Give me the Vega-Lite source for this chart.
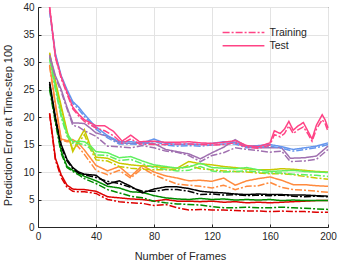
{
"$schema":"https://vega.github.io/schema/vega-lite/v6.json",
"width":290,"height":220,
"autosize":"none",
"padding":{"left":38,"top":7,"right":11,"bottom":36},
"config":{"font":"Liberation Sans","view":{"stroke":"#262626","strokeWidth":1},
 "axis":{"gridColor":"#e3e3e3","domainColor":"#262626","tickColor":"#262626","labelColor":"#262626","titleColor":"#262626","labelFontSize":10,"titleFontSize":11,"titleFontWeight":"normal","tickSize":-3,"labelFlush":false,"labelFont":"Liberation Sans","titleFont":"Liberation Sans"}},
"data":{"values":[
{"s":"red","t":"Test","x":8,"y":20.7},{"s":"red","t":"Test","x":12,"y":12.5},{"s":"red","t":"Test","x":16,"y":9.5},{"s":"red","t":"Test","x":20,"y":7.6},{"s":"red","t":"Test","x":24,"y":6.9},{"s":"red","t":"Test","x":28,"y":6.8},{"s":"red","t":"Test","x":32,"y":6.8},{"s":"red","t":"Test","x":40,"y":6.5},{"s":"red","t":"Test","x":48,"y":5.5},{"s":"red","t":"Test","x":56,"y":5.3},{"s":"red","t":"Test","x":64,"y":5.1},{"s":"red","t":"Test","x":72,"y":5.0},{"s":"red","t":"Test","x":80,"y":4.7},{"s":"red","t":"Test","x":88,"y":5.0},{"s":"red","t":"Test","x":96,"y":4.7},{"s":"red","t":"Test","x":104,"y":4.7},{"s":"red","t":"Test","x":112,"y":4.6},{"s":"red","t":"Test","x":120,"y":4.7},{"s":"red","t":"Test","x":128,"y":4.5},{"s":"red","t":"Test","x":136,"y":4.6},{"s":"red","t":"Test","x":144,"y":4.4},{"s":"red","t":"Test","x":152,"y":4.5},{"s":"red","t":"Test","x":160,"y":4.4},{"s":"red","t":"Test","x":168,"y":4.5},{"s":"red","t":"Test","x":176,"y":4.6},{"s":"red","t":"Test","x":184,"y":4.7},{"s":"red","t":"Test","x":192,"y":4.8},{"s":"red","t":"Test","x":200,"y":4.8},
{"s":"red","t":"Training","x":8,"y":20.5},{"s":"red","t":"Training","x":12,"y":12.2},{"s":"red","t":"Training","x":16,"y":9.0},{"s":"red","t":"Training","x":20,"y":7.2},{"s":"red","t":"Training","x":24,"y":6.5},{"s":"red","t":"Training","x":28,"y":6.4},{"s":"red","t":"Training","x":32,"y":6.4},{"s":"red","t":"Training","x":40,"y":6.1},{"s":"red","t":"Training","x":48,"y":5.0},{"s":"red","t":"Training","x":56,"y":4.6},{"s":"red","t":"Training","x":64,"y":4.4},{"s":"red","t":"Training","x":72,"y":4.3},{"s":"red","t":"Training","x":80,"y":3.9},{"s":"red","t":"Training","x":88,"y":4.1},{"s":"red","t":"Training","x":96,"y":3.5},{"s":"red","t":"Training","x":104,"y":3.1},{"s":"red","t":"Training","x":112,"y":3.2},{"s":"red","t":"Training","x":120,"y":3.1},{"s":"red","t":"Training","x":128,"y":3.1},{"s":"red","t":"Training","x":136,"y":3.0},{"s":"red","t":"Training","x":144,"y":2.9},{"s":"red","t":"Training","x":152,"y":2.9},{"s":"red","t":"Training","x":160,"y":2.8},{"s":"red","t":"Training","x":168,"y":2.9},{"s":"red","t":"Training","x":176,"y":2.8},{"s":"red","t":"Training","x":184,"y":2.8},{"s":"red","t":"Training","x":192,"y":2.7},{"s":"red","t":"Training","x":200,"y":2.7},
{"s":"darkgreen","t":"Test","x":8,"y":25.5},{"s":"darkgreen","t":"Test","x":12,"y":19.5},{"s":"darkgreen","t":"Test","x":16,"y":13.8},{"s":"darkgreen","t":"Test","x":20,"y":11.0},{"s":"darkgreen","t":"Test","x":24,"y":10.3},{"s":"darkgreen","t":"Test","x":28,"y":9.8},{"s":"darkgreen","t":"Test","x":32,"y":9.2},{"s":"darkgreen","t":"Test","x":40,"y":8.4},{"s":"darkgreen","t":"Test","x":48,"y":7.4},{"s":"darkgreen","t":"Test","x":56,"y":7.1},{"s":"darkgreen","t":"Test","x":64,"y":6.4},{"s":"darkgreen","t":"Test","x":72,"y":6.3},{"s":"darkgreen","t":"Test","x":80,"y":5.7},{"s":"darkgreen","t":"Test","x":88,"y":5.3},{"s":"darkgreen","t":"Test","x":96,"y":5.1},{"s":"darkgreen","t":"Test","x":104,"y":5.0},{"s":"darkgreen","t":"Test","x":112,"y":5.2},{"s":"darkgreen","t":"Test","x":120,"y":5.0},{"s":"darkgreen","t":"Test","x":128,"y":5.1},{"s":"darkgreen","t":"Test","x":136,"y":4.9},{"s":"darkgreen","t":"Test","x":144,"y":5.0},{"s":"darkgreen","t":"Test","x":152,"y":4.9},{"s":"darkgreen","t":"Test","x":160,"y":5.0},{"s":"darkgreen","t":"Test","x":168,"y":4.8},{"s":"darkgreen","t":"Test","x":176,"y":4.9},{"s":"darkgreen","t":"Test","x":184,"y":4.8},{"s":"darkgreen","t":"Test","x":192,"y":4.8},{"s":"darkgreen","t":"Test","x":200,"y":4.8},
{"s":"darkgreen","t":"Training","x":8,"y":25.0},{"s":"darkgreen","t":"Training","x":12,"y":19.0},{"s":"darkgreen","t":"Training","x":16,"y":13.4},{"s":"darkgreen","t":"Training","x":20,"y":10.8},{"s":"darkgreen","t":"Training","x":24,"y":10.1},{"s":"darkgreen","t":"Training","x":28,"y":9.5},{"s":"darkgreen","t":"Training","x":32,"y":8.8},{"s":"darkgreen","t":"Training","x":40,"y":7.9},{"s":"darkgreen","t":"Training","x":48,"y":6.8},{"s":"darkgreen","t":"Training","x":56,"y":6.2},{"s":"darkgreen","t":"Training","x":64,"y":5.6},{"s":"darkgreen","t":"Training","x":72,"y":5.3},{"s":"darkgreen","t":"Training","x":80,"y":4.7},{"s":"darkgreen","t":"Training","x":88,"y":4.4},{"s":"darkgreen","t":"Training","x":96,"y":4.2},{"s":"darkgreen","t":"Training","x":104,"y":4.1},{"s":"darkgreen","t":"Training","x":112,"y":4.0},{"s":"darkgreen","t":"Training","x":120,"y":3.7},{"s":"darkgreen","t":"Training","x":128,"y":3.5},{"s":"darkgreen","t":"Training","x":136,"y":3.5},{"s":"darkgreen","t":"Training","x":144,"y":3.6},{"s":"darkgreen","t":"Training","x":152,"y":3.5},{"s":"darkgreen","t":"Training","x":160,"y":3.5},{"s":"darkgreen","t":"Training","x":168,"y":3.6},{"s":"darkgreen","t":"Training","x":176,"y":3.5},{"s":"darkgreen","t":"Training","x":184,"y":3.4},{"s":"darkgreen","t":"Training","x":192,"y":3.3},{"s":"darkgreen","t":"Training","x":200,"y":3.2},
{"s":"black","t":"Test","x":8,"y":26.4},{"s":"black","t":"Test","x":12,"y":20.0},{"s":"black","t":"Test","x":16,"y":15.0},{"s":"black","t":"Test","x":20,"y":12.3},{"s":"black","t":"Test","x":24,"y":10.8},{"s":"black","t":"Test","x":28,"y":10.0},{"s":"black","t":"Test","x":32,"y":9.6},{"s":"black","t":"Test","x":40,"y":9.4},{"s":"black","t":"Test","x":48,"y":7.8},{"s":"black","t":"Test","x":56,"y":8.4},{"s":"black","t":"Test","x":64,"y":7.4},{"s":"black","t":"Test","x":72,"y":6.2},{"s":"black","t":"Test","x":80,"y":6.9},{"s":"black","t":"Test","x":88,"y":7.3},{"s":"black","t":"Test","x":96,"y":7.3},{"s":"black","t":"Test","x":104,"y":7.0},{"s":"black","t":"Test","x":112,"y":6.5},{"s":"black","t":"Test","x":120,"y":6.3},{"s":"black","t":"Test","x":128,"y":6.2},{"s":"black","t":"Test","x":136,"y":6.0},{"s":"black","t":"Test","x":144,"y":5.9},{"s":"black","t":"Test","x":152,"y":6.0},{"s":"black","t":"Test","x":160,"y":5.9},{"s":"black","t":"Test","x":168,"y":5.9},{"s":"black","t":"Test","x":176,"y":5.8},{"s":"black","t":"Test","x":184,"y":5.8},{"s":"black","t":"Test","x":192,"y":5.7},{"s":"black","t":"Test","x":200,"y":5.6},
{"s":"black","t":"Training","x":8,"y":26.0},{"s":"black","t":"Training","x":12,"y":19.5},{"s":"black","t":"Training","x":16,"y":14.6},{"s":"black","t":"Training","x":20,"y":12.0},{"s":"black","t":"Training","x":24,"y":10.6},{"s":"black","t":"Training","x":28,"y":9.8},{"s":"black","t":"Training","x":32,"y":9.5},{"s":"black","t":"Training","x":40,"y":9.0},{"s":"black","t":"Training","x":48,"y":8.3},{"s":"black","t":"Training","x":56,"y":7.9},{"s":"black","t":"Training","x":64,"y":7.2},{"s":"black","t":"Training","x":72,"y":6.5},{"s":"black","t":"Training","x":80,"y":6.5},{"s":"black","t":"Training","x":88,"y":6.8},{"s":"black","t":"Training","x":96,"y":6.8},{"s":"black","t":"Training","x":104,"y":6.5},{"s":"black","t":"Training","x":112,"y":5.9},{"s":"black","t":"Training","x":120,"y":6.0},{"s":"black","t":"Training","x":128,"y":5.8},{"s":"black","t":"Training","x":136,"y":5.9},{"s":"black","t":"Training","x":144,"y":5.7},{"s":"black","t":"Training","x":152,"y":5.8},{"s":"black","t":"Training","x":160,"y":5.7},{"s":"black","t":"Training","x":168,"y":5.8},{"s":"black","t":"Training","x":176,"y":5.6},{"s":"black","t":"Training","x":184,"y":5.5},{"s":"black","t":"Training","x":192,"y":5.6},{"s":"black","t":"Training","x":200,"y":5.5},
{"s":"orange","t":"Test","x":8,"y":29.5},{"s":"orange","t":"Test","x":12,"y":22.5},{"s":"orange","t":"Test","x":16,"y":16.0},{"s":"orange","t":"Test","x":20,"y":15.7},{"s":"orange","t":"Test","x":24,"y":15.9},{"s":"orange","t":"Test","x":28,"y":15.2},{"s":"orange","t":"Test","x":32,"y":14.0},{"s":"orange","t":"Test","x":40,"y":11.2},{"s":"orange","t":"Test","x":48,"y":10.2},{"s":"orange","t":"Test","x":56,"y":11.0},{"s":"orange","t":"Test","x":64,"y":9.2},{"s":"orange","t":"Test","x":72,"y":11.2},{"s":"orange","t":"Test","x":80,"y":10.0},{"s":"orange","t":"Test","x":88,"y":9.3},{"s":"orange","t":"Test","x":96,"y":8.9},{"s":"orange","t":"Test","x":104,"y":8.4},{"s":"orange","t":"Test","x":112,"y":8.5},{"s":"orange","t":"Test","x":120,"y":8.3},{"s":"orange","t":"Test","x":128,"y":8.9},{"s":"orange","t":"Test","x":136,"y":7.6},{"s":"orange","t":"Test","x":144,"y":8.4},{"s":"orange","t":"Test","x":152,"y":8.8},{"s":"orange","t":"Test","x":160,"y":9.1},{"s":"orange","t":"Test","x":168,"y":8.5},{"s":"orange","t":"Test","x":176,"y":7.7},{"s":"orange","t":"Test","x":184,"y":7.7},{"s":"orange","t":"Test","x":192,"y":7.5},{"s":"orange","t":"Test","x":200,"y":7.4},
{"s":"orange","t":"Training","x":8,"y":29.3},{"s":"orange","t":"Training","x":12,"y":22.0},{"s":"orange","t":"Training","x":16,"y":15.8},{"s":"orange","t":"Training","x":20,"y":15.5},{"s":"orange","t":"Training","x":24,"y":15.6},{"s":"orange","t":"Training","x":28,"y":14.5},{"s":"orange","t":"Training","x":32,"y":13.2},{"s":"orange","t":"Training","x":40,"y":10.3},{"s":"orange","t":"Training","x":48,"y":9.5},{"s":"orange","t":"Training","x":56,"y":10.3},{"s":"orange","t":"Training","x":64,"y":8.9},{"s":"orange","t":"Training","x":72,"y":10.7},{"s":"orange","t":"Training","x":80,"y":9.5},{"s":"orange","t":"Training","x":88,"y":8.6},{"s":"orange","t":"Training","x":96,"y":7.8},{"s":"orange","t":"Training","x":104,"y":7.6},{"s":"orange","t":"Training","x":112,"y":7.4},{"s":"orange","t":"Training","x":120,"y":7.1},{"s":"orange","t":"Training","x":128,"y":7.6},{"s":"orange","t":"Training","x":136,"y":6.8},{"s":"orange","t":"Training","x":144,"y":7.4},{"s":"orange","t":"Training","x":152,"y":7.5},{"s":"orange","t":"Training","x":160,"y":8.1},{"s":"orange","t":"Training","x":168,"y":7.2},{"s":"orange","t":"Training","x":176,"y":6.8},{"s":"orange","t":"Training","x":184,"y":6.7},{"s":"orange","t":"Training","x":192,"y":6.5},{"s":"orange","t":"Training","x":200,"y":6.3},
{"s":"yellow","t":"Test","x":8,"y":31.7},{"s":"yellow","t":"Test","x":12,"y":26.5},{"s":"yellow","t":"Test","x":16,"y":22.0},{"s":"yellow","t":"Test","x":20,"y":17.5},{"s":"yellow","t":"Test","x":24,"y":13.7},{"s":"yellow","t":"Test","x":28,"y":15.8},{"s":"yellow","t":"Test","x":32,"y":17.7},{"s":"yellow","t":"Test","x":36,"y":14.8},{"s":"yellow","t":"Test","x":40,"y":12.7},{"s":"yellow","t":"Test","x":48,"y":12.5},{"s":"yellow","t":"Test","x":56,"y":11.6},{"s":"yellow","t":"Test","x":64,"y":11.3},{"s":"yellow","t":"Test","x":72,"y":11.1},{"s":"yellow","t":"Test","x":80,"y":11.0},{"s":"yellow","t":"Test","x":88,"y":10.8},{"s":"yellow","t":"Test","x":96,"y":10.7},{"s":"yellow","t":"Test","x":104,"y":11.9},{"s":"yellow","t":"Test","x":112,"y":11.5},{"s":"yellow","t":"Test","x":120,"y":11.3},{"s":"yellow","t":"Test","x":128,"y":11.0},{"s":"yellow","t":"Test","x":136,"y":10.8},{"s":"yellow","t":"Test","x":144,"y":10.5},{"s":"yellow","t":"Test","x":152,"y":10.4},{"s":"yellow","t":"Test","x":160,"y":10.4},{"s":"yellow","t":"Test","x":168,"y":10.6},{"s":"yellow","t":"Test","x":176,"y":10.5},{"s":"yellow","t":"Test","x":184,"y":10.3},{"s":"yellow","t":"Test","x":192,"y":10.1},{"s":"yellow","t":"Test","x":200,"y":10.0},
{"s":"yellow","t":"Training","x":8,"y":31.5},{"s":"yellow","t":"Training","x":12,"y":26.0},{"s":"yellow","t":"Training","x":16,"y":21.5},{"s":"yellow","t":"Training","x":20,"y":17.2},{"s":"yellow","t":"Training","x":24,"y":14.0},{"s":"yellow","t":"Training","x":28,"y":15.3},{"s":"yellow","t":"Training","x":32,"y":16.8},{"s":"yellow","t":"Training","x":36,"y":14.2},{"s":"yellow","t":"Training","x":40,"y":12.2},{"s":"yellow","t":"Training","x":48,"y":12.0},{"s":"yellow","t":"Training","x":56,"y":11.0},{"s":"yellow","t":"Training","x":64,"y":10.7},{"s":"yellow","t":"Training","x":72,"y":10.5},{"s":"yellow","t":"Training","x":80,"y":10.4},{"s":"yellow","t":"Training","x":88,"y":10.4},{"s":"yellow","t":"Training","x":96,"y":10.4},{"s":"yellow","t":"Training","x":104,"y":11.2},{"s":"yellow","t":"Training","x":112,"y":10.6},{"s":"yellow","t":"Training","x":120,"y":10.4},{"s":"yellow","t":"Training","x":128,"y":10.2},{"s":"yellow","t":"Training","x":136,"y":10.1},{"s":"yellow","t":"Training","x":144,"y":10.0},{"s":"yellow","t":"Training","x":152,"y":9.8},{"s":"yellow","t":"Training","x":160,"y":9.7},{"s":"yellow","t":"Training","x":168,"y":9.7},{"s":"yellow","t":"Training","x":176,"y":9.5},{"s":"yellow","t":"Training","x":184,"y":9.2},{"s":"yellow","t":"Training","x":192,"y":8.9},{"s":"yellow","t":"Training","x":200,"y":8.7},
{"s":"lightgreen","t":"Test","x":8,"y":30.8},{"s":"lightgreen","t":"Test","x":12,"y":25.5},{"s":"lightgreen","t":"Test","x":16,"y":20.5},{"s":"lightgreen","t":"Test","x":20,"y":17.0},{"s":"lightgreen","t":"Test","x":24,"y":15.5},{"s":"lightgreen","t":"Test","x":28,"y":15.6},{"s":"lightgreen","t":"Test","x":32,"y":15.5},{"s":"lightgreen","t":"Test","x":36,"y":14.8},{"s":"lightgreen","t":"Test","x":40,"y":13.7},{"s":"lightgreen","t":"Test","x":48,"y":13.5},{"s":"lightgreen","t":"Test","x":56,"y":12.6},{"s":"lightgreen","t":"Test","x":64,"y":12.8},{"s":"lightgreen","t":"Test","x":72,"y":12.0},{"s":"lightgreen","t":"Test","x":80,"y":11.3},{"s":"lightgreen","t":"Test","x":88,"y":11.0},{"s":"lightgreen","t":"Test","x":96,"y":10.7},{"s":"lightgreen","t":"Test","x":104,"y":10.9},{"s":"lightgreen","t":"Test","x":112,"y":11.6},{"s":"lightgreen","t":"Test","x":120,"y":10.8},{"s":"lightgreen","t":"Test","x":128,"y":10.7},{"s":"lightgreen","t":"Test","x":136,"y":10.6},{"s":"lightgreen","t":"Test","x":144,"y":10.8},{"s":"lightgreen","t":"Test","x":152,"y":10.4},{"s":"lightgreen","t":"Test","x":160,"y":10.1},{"s":"lightgreen","t":"Test","x":168,"y":10.2},{"s":"lightgreen","t":"Test","x":176,"y":10.3},{"s":"lightgreen","t":"Test","x":184,"y":10.1},{"s":"lightgreen","t":"Test","x":192,"y":10.0},{"s":"lightgreen","t":"Test","x":200,"y":9.9},
{"s":"lightgreen","t":"Training","x":8,"y":30.5},{"s":"lightgreen","t":"Training","x":12,"y":25.0},{"s":"lightgreen","t":"Training","x":16,"y":20.0},{"s":"lightgreen","t":"Training","x":20,"y":16.5},{"s":"lightgreen","t":"Training","x":24,"y":15.2},{"s":"lightgreen","t":"Training","x":28,"y":15.2},{"s":"lightgreen","t":"Training","x":32,"y":15.0},{"s":"lightgreen","t":"Training","x":36,"y":14.3},{"s":"lightgreen","t":"Training","x":40,"y":13.1},{"s":"lightgreen","t":"Training","x":48,"y":13.0},{"s":"lightgreen","t":"Training","x":56,"y":12.1},{"s":"lightgreen","t":"Training","x":64,"y":12.3},{"s":"lightgreen","t":"Training","x":72,"y":11.5},{"s":"lightgreen","t":"Training","x":80,"y":10.8},{"s":"lightgreen","t":"Training","x":88,"y":10.5},{"s":"lightgreen","t":"Training","x":96,"y":10.2},{"s":"lightgreen","t":"Training","x":104,"y":10.3},{"s":"lightgreen","t":"Training","x":112,"y":11.0},{"s":"lightgreen","t":"Training","x":120,"y":10.2},{"s":"lightgreen","t":"Training","x":128,"y":10.0},{"s":"lightgreen","t":"Training","x":136,"y":10.1},{"s":"lightgreen","t":"Training","x":144,"y":10.2},{"s":"lightgreen","t":"Training","x":152,"y":10.0},{"s":"lightgreen","t":"Training","x":160,"y":9.8},{"s":"lightgreen","t":"Training","x":168,"y":9.8},{"s":"lightgreen","t":"Training","x":176,"y":9.6},{"s":"lightgreen","t":"Training","x":184,"y":9.5},{"s":"lightgreen","t":"Training","x":192,"y":9.4},{"s":"lightgreen","t":"Training","x":200,"y":9.2},
{"s":"purple","t":"Test","x":8,"y":31.3},{"s":"purple","t":"Test","x":12,"y":27.5},{"s":"purple","t":"Test","x":16,"y":25.0},{"s":"purple","t":"Test","x":20,"y":21.8},{"s":"purple","t":"Test","x":24,"y":18.9},{"s":"purple","t":"Test","x":28,"y":18.9},{"s":"purple","t":"Test","x":32,"y":18.8},{"s":"purple","t":"Test","x":36,"y":18.0},{"s":"purple","t":"Test","x":40,"y":17.1},{"s":"purple","t":"Test","x":48,"y":16.5},{"s":"purple","t":"Test","x":56,"y":15.3},{"s":"purple","t":"Test","x":64,"y":15.2},{"s":"purple","t":"Test","x":72,"y":15.3},{"s":"purple","t":"Test","x":80,"y":15.2},{"s":"purple","t":"Test","x":88,"y":14.1},{"s":"purple","t":"Test","x":96,"y":13.7},{"s":"purple","t":"Test","x":104,"y":13.3},{"s":"purple","t":"Test","x":112,"y":12.4},{"s":"purple","t":"Test","x":120,"y":13.5},{"s":"purple","t":"Test","x":128,"y":14.5},{"s":"purple","t":"Test","x":136,"y":15.9},{"s":"purple","t":"Test","x":144,"y":14.6},{"s":"purple","t":"Test","x":152,"y":14.4},{"s":"purple","t":"Test","x":160,"y":14.4},{"s":"purple","t":"Test","x":168,"y":14.4},{"s":"purple","t":"Test","x":174,"y":12.5},{"s":"purple","t":"Test","x":184,"y":12.6},{"s":"purple","t":"Test","x":192,"y":12.9},{"s":"purple","t":"Test","x":200,"y":14.7},
{"s":"purple","t":"Training","x":8,"y":31.0},{"s":"purple","t":"Training","x":12,"y":27.2},{"s":"purple","t":"Training","x":16,"y":24.6},{"s":"purple","t":"Training","x":20,"y":21.5},{"s":"purple","t":"Training","x":24,"y":18.5},{"s":"purple","t":"Training","x":28,"y":18.2},{"s":"purple","t":"Training","x":32,"y":17.5},{"s":"purple","t":"Training","x":40,"y":16.5},{"s":"purple","t":"Training","x":48,"y":14.7},{"s":"purple","t":"Training","x":56,"y":14.6},{"s":"purple","t":"Training","x":64,"y":14.4},{"s":"purple","t":"Training","x":72,"y":14.8},{"s":"purple","t":"Training","x":80,"y":14.4},{"s":"purple","t":"Training","x":88,"y":13.8},{"s":"purple","t":"Training","x":96,"y":13.6},{"s":"purple","t":"Training","x":104,"y":13.0},{"s":"purple","t":"Training","x":112,"y":11.9},{"s":"purple","t":"Training","x":120,"y":13.0},{"s":"purple","t":"Training","x":128,"y":13.5},{"s":"purple","t":"Training","x":136,"y":14.4},{"s":"purple","t":"Training","x":144,"y":14.1},{"s":"purple","t":"Training","x":152,"y":13.9},{"s":"purple","t":"Training","x":160,"y":13.6},{"s":"purple","t":"Training","x":168,"y":13.8},{"s":"purple","t":"Training","x":174,"y":11.9},{"s":"purple","t":"Training","x":184,"y":12.0},{"s":"purple","t":"Training","x":192,"y":12.3},{"s":"purple","t":"Training","x":200,"y":14.1},
{"s":"blue","t":"Test","x":8,"y":39.5},{"s":"blue","t":"Test","x":12,"y":31.5},{"s":"blue","t":"Test","x":16,"y":27.5},{"s":"blue","t":"Test","x":20,"y":25.0},{"s":"blue","t":"Test","x":24,"y":22.8},{"s":"blue","t":"Test","x":28,"y":21.8},{"s":"blue","t":"Test","x":32,"y":20.5},{"s":"blue","t":"Test","x":36,"y":19.3},{"s":"blue","t":"Test","x":40,"y":18.2},{"s":"blue","t":"Test","x":48,"y":16.6},{"s":"blue","t":"Test","x":56,"y":15.5},{"s":"blue","t":"Test","x":64,"y":15.5},{"s":"blue","t":"Test","x":72,"y":15.3},{"s":"blue","t":"Test","x":80,"y":16.0},{"s":"blue","t":"Test","x":88,"y":15.2},{"s":"blue","t":"Test","x":96,"y":15.0},{"s":"blue","t":"Test","x":104,"y":15.1},{"s":"blue","t":"Test","x":112,"y":15.0},{"s":"blue","t":"Test","x":120,"y":15.2},{"s":"blue","t":"Test","x":128,"y":15.5},{"s":"blue","t":"Test","x":136,"y":15.4},{"s":"blue","t":"Test","x":144,"y":14.7},{"s":"blue","t":"Test","x":152,"y":14.8},{"s":"blue","t":"Test","x":160,"y":15.0},{"s":"blue","t":"Test","x":168,"y":14.6},{"s":"blue","t":"Test","x":176,"y":14.1},{"s":"blue","t":"Test","x":184,"y":14.4},{"s":"blue","t":"Test","x":192,"y":14.7},{"s":"blue","t":"Test","x":200,"y":15.3},
{"s":"blue","t":"Training","x":8,"y":39.3},{"s":"blue","t":"Training","x":12,"y":31.3},{"s":"blue","t":"Training","x":16,"y":27.3},{"s":"blue","t":"Training","x":20,"y":24.7},{"s":"blue","t":"Training","x":24,"y":22.5},{"s":"blue","t":"Training","x":28,"y":21.4},{"s":"blue","t":"Training","x":32,"y":20.1},{"s":"blue","t":"Training","x":36,"y":19.0},{"s":"blue","t":"Training","x":40,"y":17.8},{"s":"blue","t":"Training","x":48,"y":16.2},{"s":"blue","t":"Training","x":56,"y":15.1},{"s":"blue","t":"Training","x":64,"y":15.1},{"s":"blue","t":"Training","x":72,"y":15.0},{"s":"blue","t":"Training","x":80,"y":15.6},{"s":"blue","t":"Training","x":88,"y":14.9},{"s":"blue","t":"Training","x":96,"y":14.7},{"s":"blue","t":"Training","x":104,"y":14.8},{"s":"blue","t":"Training","x":112,"y":14.7},{"s":"blue","t":"Training","x":120,"y":14.9},{"s":"blue","t":"Training","x":128,"y":15.1},{"s":"blue","t":"Training","x":136,"y":15.1},{"s":"blue","t":"Training","x":144,"y":14.4},{"s":"blue","t":"Training","x":152,"y":14.5},{"s":"blue","t":"Training","x":160,"y":14.7},{"s":"blue","t":"Training","x":168,"y":14.3},{"s":"blue","t":"Training","x":176,"y":13.8},{"s":"blue","t":"Training","x":184,"y":14.1},{"s":"blue","t":"Training","x":192,"y":14.4},{"s":"blue","t":"Training","x":200,"y":15.0},
{"s":"pink","t":"Training","x":8,"y":40.0},{"s":"pink","t":"Training","x":12,"y":30.8},{"s":"pink","t":"Training","x":16,"y":27.0},{"s":"pink","t":"Training","x":20,"y":24.2},{"s":"pink","t":"Training","x":24,"y":21.5},{"s":"pink","t":"Training","x":28,"y":20.2},{"s":"pink","t":"Training","x":32,"y":19.2},{"s":"pink","t":"Training","x":40,"y":18.0},{"s":"pink","t":"Training","x":46,"y":17.5},{"s":"pink","t":"Training","x":52,"y":16.6},{"s":"pink","t":"Training","x":58,"y":15.2},{"s":"pink","t":"Training","x":64,"y":16.0},{"s":"pink","t":"Training","x":70,"y":15.1},{"s":"pink","t":"Training","x":80,"y":15.0},{"s":"pink","t":"Training","x":88,"y":15.0},{"s":"pink","t":"Training","x":96,"y":15.1},{"s":"pink","t":"Training","x":104,"y":15.1},{"s":"pink","t":"Training","x":112,"y":15.0},{"s":"pink","t":"Training","x":120,"y":14.9},{"s":"pink","t":"Training","x":128,"y":15.0},{"s":"pink","t":"Training","x":136,"y":15.3},{"s":"pink","t":"Training","x":144,"y":14.5},{"s":"pink","t":"Training","x":152,"y":14.3},{"s":"pink","t":"Training","x":160,"y":14.9},{"s":"pink","t":"Training","x":163,"y":16.8},{"s":"pink","t":"Training","x":167,"y":16.4},{"s":"pink","t":"Training","x":170,"y":17.0},{"s":"pink","t":"Training","x":173,"y":18.4},{"s":"pink","t":"Training","x":176,"y":17.0},{"s":"pink","t":"Training","x":179,"y":17.6},{"s":"pink","t":"Training","x":183,"y":18.2},{"s":"pink","t":"Training","x":186,"y":17.0},{"s":"pink","t":"Training","x":189,"y":15.6},{"s":"pink","t":"Training","x":192,"y":17.8},{"s":"pink","t":"Training","x":196,"y":19.5},{"s":"pink","t":"Training","x":198,"y":18.8},{"s":"pink","t":"Training","x":200,"y":17.4},
{"s":"pink","t":"Test","x":8,"y":40.0},{"s":"pink","t":"Test","x":12,"y":31.0},{"s":"pink","t":"Test","x":16,"y":27.3},{"s":"pink","t":"Test","x":20,"y":24.5},{"s":"pink","t":"Test","x":24,"y":21.8},{"s":"pink","t":"Test","x":28,"y":20.5},{"s":"pink","t":"Test","x":32,"y":19.5},{"s":"pink","t":"Test","x":40,"y":18.4},{"s":"pink","t":"Test","x":46,"y":18.4},{"s":"pink","t":"Test","x":52,"y":17.4},{"s":"pink","t":"Test","x":58,"y":15.6},{"s":"pink","t":"Test","x":64,"y":16.7},{"s":"pink","t":"Test","x":70,"y":15.5},{"s":"pink","t":"Test","x":80,"y":15.6},{"s":"pink","t":"Test","x":88,"y":15.4},{"s":"pink","t":"Test","x":96,"y":15.4},{"s":"pink","t":"Test","x":104,"y":15.5},{"s":"pink","t":"Test","x":112,"y":15.3},{"s":"pink","t":"Test","x":120,"y":15.2},{"s":"pink","t":"Test","x":128,"y":15.4},{"s":"pink","t":"Test","x":136,"y":15.7},{"s":"pink","t":"Test","x":144,"y":14.8},{"s":"pink","t":"Test","x":152,"y":14.6},{"s":"pink","t":"Test","x":160,"y":15.3},{"s":"pink","t":"Test","x":163,"y":17.5},{"s":"pink","t":"Test","x":167,"y":17.0},{"s":"pink","t":"Test","x":170,"y":17.8},{"s":"pink","t":"Test","x":173,"y":19.2},{"s":"pink","t":"Test","x":176,"y":17.6},{"s":"pink","t":"Test","x":179,"y":18.3},{"s":"pink","t":"Test","x":183,"y":19.0},{"s":"pink","t":"Test","x":186,"y":17.5},{"s":"pink","t":"Test","x":189,"y":16.0},{"s":"pink","t":"Test","x":192,"y":18.5},{"s":"pink","t":"Test","x":196,"y":20.4},{"s":"pink","t":"Test","x":198,"y":19.5},{"s":"pink","t":"Test","x":200,"y":18.0}
]},
"mark":{"type":"line","strokeWidth":1.5},
"encoding":{
 "x":{"field":"x","type":"quantitative","scale":{"domain":[0,200],"nice":false},"axis":{"values":[0,40,80,120,160,200],"title":"Number of Frames","labelPadding":7.5,"titleBaseline":"middle","titleY":29,"titleX":142}},
 "y":{"field":"y","type":"quantitative","scale":{"domain":[0,40],"nice":false},"axis":{"values":[0,5,10,15,20,25,30,35,40],"title":"Prediction Error at Time-step 100","labelPadding":7,"titleBaseline":"middle","titleX":-29.5,"titleY":118}},
 "color":{"field":"s","type":"nominal","scale":{"domain":["red","darkgreen","black","orange","yellow","lightgreen","purple","blue","pink"],"range":["#dd0000","#008c00","#000000","#ff8a3d","#c8c800","#60f060","#a070b0","#6495ed","#ff4385"]},"legend":null},
 "strokeDash":{"field":"t","type":"nominal","scale":{"domain":["Training","Test"],"range":[[7,2,2,2],[1,0]]},"legend":{"title":null,"orient":"none","legendX":199,"legendY":19,"symbolType":"M-3.8,0H3.8","symbolSize":121,"symbolStrokeColor":"#ff4385","symbolStrokeWidth":1.5,"symbolFillColor":"transparent","labelFontSize":10.5,"labelColor":"#262626","rowPadding":1.3,"labelOffset":19.4}}
}
}
